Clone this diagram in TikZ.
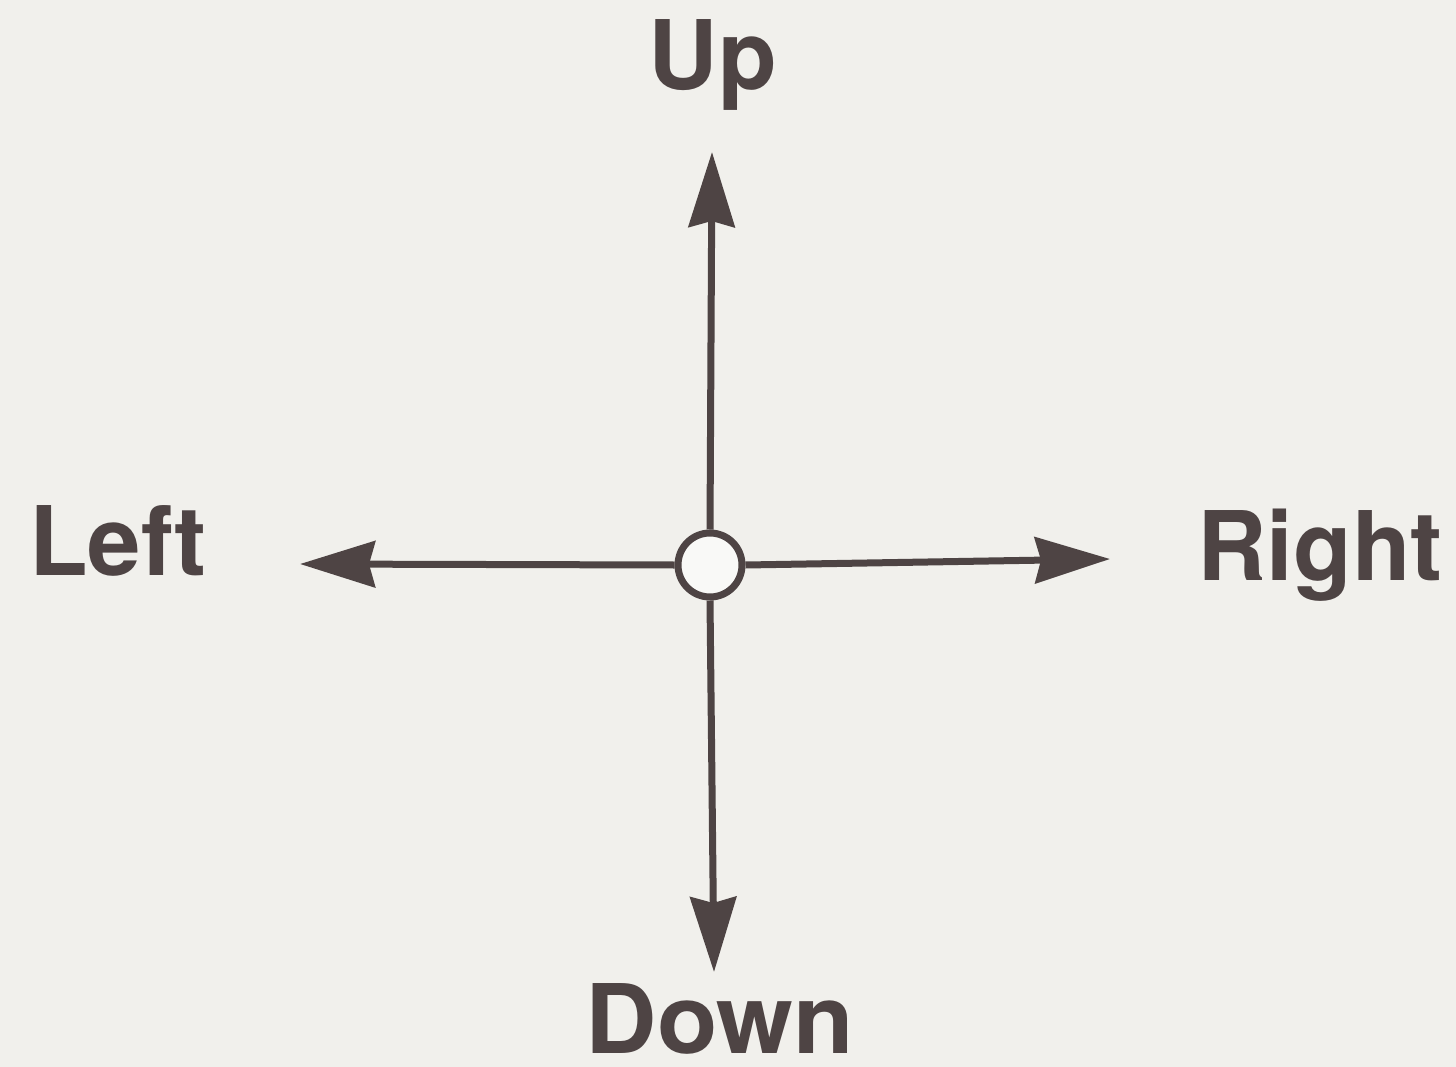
\documentclass[tikz,border=0pt]{standalone}
\usepackage{fontspec}
\setmainfont{TeX Gyre Heros}
\usetikzlibrary{arrows.meta}
\definecolor{bgc}{RGB}{241,240,236}
\definecolor{ink}{RGB}{78,68,68}
\begin{document}
\begin{tikzpicture}[x=1pt,y=-1pt,
  axis/.style={draw=ink,line width=7pt,-{Stealth[length=75pt,width=46pt,inset=6pt]}},
  lbl/.style={text=ink,font=\fontsize{96}{100}\selectfont\bfseries,inner sep=0pt,anchor=base}]
\fill[bgc] (0,0) rectangle (1456,1067);
\useasboundingbox (0,0) rectangle (1456,1067);
\node[circle,draw=ink,line width=7pt,fill=bgc!40!white,minimum size=64pt,inner sep=0pt] (c) at (710,565) {};
\coordinate (u) at (712,152);
\coordinate (d) at (714,972);
\coordinate (l) at (300,564);
\coordinate (r) at (1110,559);
\draw[axis] (c.north) -- (u);
\draw[axis] (c.south) -- (d);
\draw[axis] (c.west) -- (l);
\draw[axis] (c.east) -- (r);
\node[lbl] (tu) at (713,90) {Up};
\node[lbl,xscale=1.03] (td) at (720,1053) {Down};
\node[lbl] (tl) at (118,575) {Left};
\node[lbl] (tr) at (1320,580) {Right};
\end{tikzpicture}
\end{document}
